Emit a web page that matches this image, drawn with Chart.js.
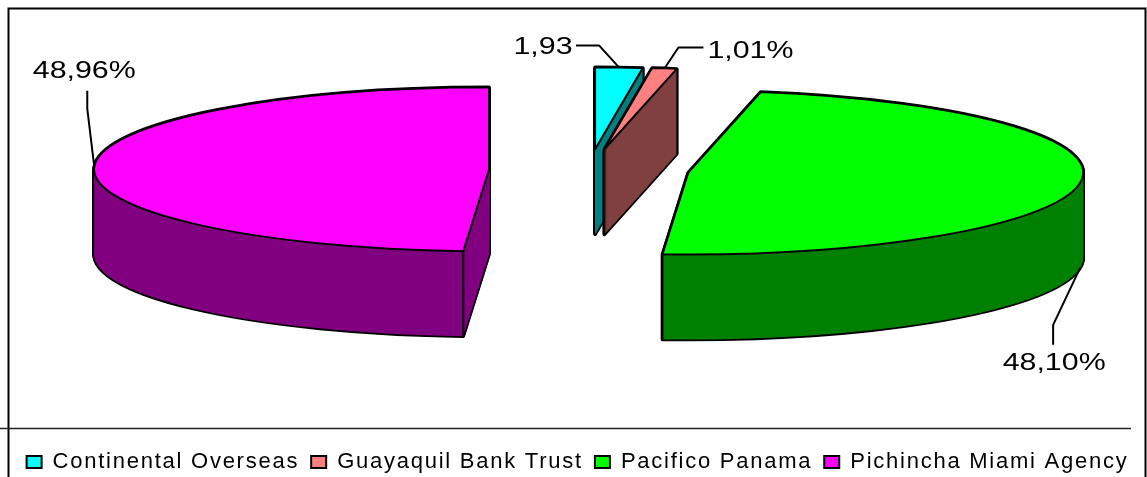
<!DOCTYPE html>
<html><head><meta charset="utf-8">
<style>html,body{margin:0;padding:0;background:#fff}canvas{display:block}</style>
<script src="https://cdn.jsdelivr.net/npm/chart.js@4"></script>
</head><body><canvas id="c" width="1147" height="477"></canvas>
<script>
const categories = ["Continental Overseas","Guayaquil Bank Trust","Pacifico Panama","Pichincha Miami Agency"];
const shares = [1.93,1.01,48.10,48.96];
const valueLabels = ["1,93","1,01%","48,10%","48,96%"];
const topColors = ["#00FFFF","#FF8080","#00FF00","#FF00FF"];
const sideColors = ["#008080","#804040","#008000","#800080"];
// leader lines: offsets from the slice's mid-angle rim point [elbow dx,dy, end dx,dy, text dx,dy]
const leaders = [
  [-20,-22, -43,-22, -76,-20],
  [14,-21, 39,-21, 86,-17],
  [-27,57, -27,77, -26,96],
  [-7,-58, -7,-76, -10,-95]
];
const CX=589, CY=170, SQUASH=0.2076, DEPTH=85, FONT='"Liberation Sans",Arial,sans-serif';
const LEGEND_SPACING='1.75px';

function geom(el){
  const p=el.getProps(['startAngle','endAngle','outerRadius']);
  const off=el.options.offset, mid=(p.startAngle+p.endAngle)/2;
  const x=CX+Math.cos(mid)*off, y=CY+Math.sin(mid)*off*SQUASH;
  return {x,y,r:p.outerRadius,ry:p.outerRadius*SQUASH,a0:p.startAngle,a1:p.endAngle,mid};
}
function path(ctx,g,dy){
  ctx.beginPath();
  ctx.moveTo(g.x,g.y+dy);
  ctx.ellipse(g.x,g.y+dy,g.r,g.ry,0,g.a0,g.a1);
  ctx.closePath();
}
const pie3d={
  id:'pie3d',
  beforeUpdate(chart){chart.ctx.letterSpacing=LEGEND_SPACING;},
  beforeDraw(chart){
    const ctx=chart.ctx;
    ctx.letterSpacing=LEGEND_SPACING;
    ctx.save();
    ctx.strokeStyle='#000';ctx.lineWidth=2;
    ctx.beginPath();
    ctx.moveTo(8.5,477);ctx.lineTo(8.5,8.5);ctx.lineTo(1145.5,8.5);ctx.lineTo(1145.5,477);
    ctx.stroke();
    ctx.strokeStyle='#222';ctx.lineWidth=1.5;
    ctx.beginPath();ctx.moveTo(0,428.5);ctx.lineTo(1131,428.5);ctx.stroke();
    ctx.restore();
  },
  beforeDatasetsDraw(chart){
    const ctx=chart.ctx, arcs=chart.getDatasetMeta(0).data;
    ctx.save();
    ctx.letterSpacing='0px';
    ctx.lineJoin='round';
    arcs.forEach((el,i)=>{
      const g=geom(el);
      ctx.strokeStyle='#000';ctx.lineWidth=3.5;
      for(let d=DEPTH;d>=0;d-=1){path(ctx,g,d);ctx.stroke();}
      ctx.fillStyle=sideColors[i];
      for(let d=DEPTH;d>=0;d-=1){path(ctx,g,d);ctx.fill();}
      ctx.lineWidth=2;
      [g.a0,g.a1].forEach(a=>{
        if(Math.sin(a)>0.5){
          const px=g.x+Math.cos(a)*g.r, py=g.y+Math.sin(a)*g.ry;
          ctx.beginPath();ctx.moveTo(px,py);ctx.lineTo(px,py+DEPTH);ctx.stroke();
        }
      });
      path(ctx,g,0);
      ctx.fillStyle=topColors[i];ctx.fill();
      ctx.strokeStyle='#000';ctx.lineWidth=2;ctx.stroke();
    });
    arcs.forEach((el,i)=>{
      const g=geom(el), L=leaders[i];
      let ax=g.x+Math.cos(g.mid)*g.r, ay=g.y+Math.sin(g.mid)*g.ry;
      if(Math.sin(g.mid)>0) ay+=DEPTH;
      ctx.strokeStyle='#000';ctx.lineWidth=2;
      ctx.beginPath();ctx.moveTo(ax,ay);ctx.lineTo(ax+L[0],ay+L[1]);ctx.lineTo(ax+L[2],ay+L[3]);ctx.stroke();
      ctx.save();
      ctx.translate(ax+L[4],ay+L[5]);
      ctx.scale(1.32,1);
      ctx.font='23px '+FONT;ctx.fillStyle='#000';ctx.textAlign='center';ctx.textBaseline='middle';
      ctx.fillText(valueLabels[i],0,0);
      ctx.restore();
    });
    ctx.restore();
    return false;
  }
};
new Chart(document.getElementById('c'),{
  type:'pie',
  data:{labels:categories,datasets:[{data:shares,backgroundColor:topColors,borderColor:'#000',borderWidth:2,offset:100}]},
  options:{
    responsive:false,animation:false,radius:395,
    layout:{padding:{left:8,right:0,top:0,bottom:-6}},
    plugins:{
      tooltip:{enabled:false},
      legend:{position:'bottom',labels:{boxWidth:15,boxHeight:12,padding:12,color:'#000',font:{family:FONT,size:22}}}
    }
  },
  plugins:[pie3d]
});
</script></body></html>
